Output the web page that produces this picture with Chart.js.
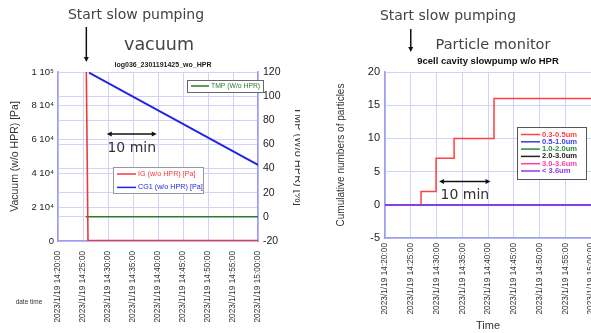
<!DOCTYPE html>
<html>
<head>
<meta charset="utf-8">
<script src="https://cdn.jsdelivr.net/npm/chart.js@4.4.1/dist/chart.umd.min.js"></script>
<style>
  html, body { margin: 0; padding: 0; background: #fff; width: 591px; height: 333px; overflow: hidden; }
  #leftBox { position: absolute; left: 0; top: 0; width: 300px; height: 333px; }
  #rightBox { position: absolute; left: 300px; top: 0; width: 320px; height: 333px; }
  .t { position: absolute; white-space: nowrap; transform: translateX(-50%); font-family: "DejaVu Sans", sans-serif; color: #444; line-height: 1; }
</style>
</head>
<body>
<div id="leftBox"><canvas id="vacuum" width="300" height="333"></canvas></div>
<div id="rightBox"><canvas id="particle" width="320" height="333"></canvas></div>

<div class="t" style="left:136px; top:7px; font-size:14px;">Start slow pumping</div>
<div class="t" style="left:159px; top:36px; font-size:17.5px;">vacuum</div>
<div class="t" style="left:163px; top:61px; font-size:7px; font-weight:bold; font-family:'Liberation Sans'; color:#222;">log036_2301191425_wo_HPR</div>
<div class="t" style="left:29px; top:299px; font-size:6.5px; font-family:'Liberation Sans'; color:#333;">date time</div>

<div class="t" style="left:448px; top:8px; font-size:14px;">Start slow pumping</div>
<div class="t" style="left:493px; top:37px; font-size:14.5px;">Particle monitor</div>
<div class="t" style="left:488px; top:56px; font-size:9.5px; font-weight:bold; font-family:'Liberation Sans'; color:#111;">9cell cavity slowpump w/o HPR</div>

<script>
// x axis is minutes after 14:20 on 2023/1/19
const tickMinutes = [0, 5, 10, 15, 20, 25, 30, 35, 40];

// vacuum chart
const igTimes = ['14:25:40', '14:26:00', '14:40:00', '15:00:00'];
const igValues = [100000, 250, 250, 200];
const cg1Times = ['14:26:12', '15:00:00'];
const cg1Values = [99600, 45000];
const tmpTimes = ['14:25:33', '15:00:00'];
const tmpValues = [0, 0];

// particle monitor
const pmLabels = ['0.3-0.5um', '0.5-1.0um', '1.0-2.0um', '2.0-3.0um', '3.0-3.6um', '< 3.6um'];
const pmColors = ['#ff4040', '#3c3cf0', '#2a8a3a', '#222222', '#ff3fa0', '#8a3cf0'];
const pm03Times = ['14:20:00', '14:27:00', '14:29:55', '14:33:25', '14:41:10', '15:00:00'];
const pm03Values = [0, 2, 7, 10, 16, 16];
const pmZeroTimes = ['14:20:00', '15:00:00'];
const pmZeroValues = [0, 0];

// annotation marks (time, value)
const startPumpVac = '14:25:40';
const startPumpPm = '14:25:00';
const tenMinVac = { from: '14:29:45', to: '14:39:45', value: 63300 };
const tenMinPm = { from: '14:30:30', to: '14:40:30', value: 3.5 };

function toMin(t) {
    const p = t.split(':').map(Number);
    return (p[0] - 14) * 60 + p[1] - 20 + p[2] / 60;
}
function pts(times, values) {
    return times.map((t, i) => ({ x: toMin(t), y: values[i] }));
}
function tickLabel(v) {
    const m = 20 + v;
    const hh = 14 + Math.floor(m / 60);
    const mm = String(m % 60).padStart(2, '0');
    return '2023/1/19 ' + hh + ':' + mm + ':00';
}

const gridColor = '#d2d2fb';
const axisColor = '#9c9cf2';

function arrowHead(ctx, x, y, dir) {
    // dir: 'down', 'left', 'right'
    ctx.beginPath();
    if (dir === 'down') { ctx.moveTo(x, y); ctx.lineTo(x - 2.5, y - 5); ctx.lineTo(x + 2.5, y - 5); }
    if (dir === 'left') { ctx.moveTo(x, y); ctx.lineTo(x + 5, y - 2.5); ctx.lineTo(x + 5, y + 2.5); }
    if (dir === 'right') { ctx.moveTo(x, y); ctx.lineTo(x - 5, y - 2.5); ctx.lineTo(x - 5, y + 2.5); }
    ctx.closePath();
    ctx.fill();
}

// draws the "start" arrow, the 10 min span and the legend boxes
const overlay = {
    id: 'overlay',
    afterDraw(chart, args, o) {
        const ctx = chart.ctx;
        const x = chart.scales.x;
        const y = chart.scales[o.spanAxis];
        ctx.save();
        ctx.strokeStyle = '#111';
        ctx.fillStyle = '#111';
        ctx.lineWidth = 1.5;

        // start arrow
        const sx = x.getPixelForValue(toMin(o.start));
        ctx.beginPath();
        ctx.moveTo(sx, o.startTop);
        ctx.lineTo(sx, o.startBottom - 4);
        ctx.stroke();
        arrowHead(ctx, sx, o.startBottom, 'down');

        // 10 min span
        const x1 = x.getPixelForValue(toMin(o.span.from));
        const x2 = x.getPixelForValue(toMin(o.span.to));
        const yy = y.getPixelForValue(o.span.value);
        ctx.beginPath();
        ctx.moveTo(x1 + 3, yy);
        ctx.lineTo(x2 - 3, yy);
        ctx.stroke();
        arrowHead(ctx, x1, yy, 'left');
        arrowHead(ctx, x2, yy, 'right');
        ctx.font = '14px "DejaVu Sans"';
        ctx.fillStyle = '#333';
        ctx.textAlign = 'center';
        ctx.textBaseline = 'middle';
        ctx.fillText('10 min', (x1 + x2) / 2, yy + 14);

        // legends
        o.legends.forEach(lg => {
            ctx.fillStyle = '#fff';
            ctx.fillRect(lg.x, lg.y, lg.w, lg.h);
            ctx.strokeStyle = lg.border;
            ctx.lineWidth = 1;
            ctx.strokeRect(lg.x + 0.5, lg.y + 0.5, lg.w, lg.h);
            ctx.font = lg.font;
            ctx.textAlign = 'left';
            ctx.textBaseline = 'middle';
            lg.items.forEach((idx, i) => {
                const ds = chart.data.datasets[idx];
                const ry = lg.y + lg.first + i * lg.step;
                ctx.strokeStyle = ds.borderColor;
                ctx.lineWidth = 1.5;
                ctx.beginPath();
                ctx.moveTo(lg.x + 4, ry);
                ctx.lineTo(lg.x + 4 + lg.line, ry);
                ctx.stroke();
                ctx.fillStyle = ds.borderColor;
                ctx.fillText(ds.label, lg.x + 6 + lg.line, ry);
            });
        });
        ctx.restore();
    }
};

function timeAxis(pad, height) {
    return {
        type: 'linear', min: 0, max: 40,
        afterBuildTicks: s => { s.ticks = tickMinutes.map(v => ({ value: v })); },
        afterFit: s => { s.height = height; s.paddingLeft = 0; s.paddingRight = 0; },
        grid: { color: gridColor, drawTicks: false },
        border: { color: axisColor, width: 1.5 },
        ticks: {
            autoSkip: false, minRotation: 90, maxRotation: 90, padding: pad,
            color: '#333', font: { family: 'Liberation Sans', size: 8.3 },
            callback: v => tickLabel(v)
        }
    };
}

const vacChart = new Chart(document.getElementById('vacuum'), {
    type: 'line',
    data: {
        datasets: [
            { label: 'IG (w/o HPR) [Pa]', data: pts(igTimes, igValues), borderColor: '#f03a3a', borderWidth: 1.6, yAxisID: 'y' },
            { label: 'CG1 (w/o HPR) [Pa]', data: pts(cg1Times, cg1Values), borderColor: '#2323e6', borderWidth: 2, yAxisID: 'y' },
            { label: 'TMP (W/o HPR)', data: pts(tmpTimes, tmpValues), borderColor: '#2a7a2a', borderWidth: 1.5, yAxisID: 'y1' }
        ]
    },
    options: {
        responsive: false, animation: false,
        elements: { point: { radius: 0 }, line: { tension: 0 } },
        layout: { padding: { top: 72, left: 0, right: 0, bottom: 0 } },
        plugins: {
            legend: { display: false }, tooltip: { enabled: false },
            overlay: {
                start: startPumpVac, startTop: 27, startBottom: 62,
                spanAxis: 'y', span: tenMinVac,
                legends: [
                    { x: 187, y: 80, w: 76, h: 12, border: '#666', font: '6.8px "Liberation Sans"', line: 18, first: 6, step: 0, items: [2] },
                    { x: 113, y: 167, w: 90, h: 26, border: '#999', font: '7.2px "Liberation Sans"', line: 19, first: 7, step: 13.4, items: [0, 1] }
                ]
            }
        },
        scales: {
            x: timeAxis(10, 92),
            y: {
                position: 'left', min: 0, max: 100000,
                ticks: {
                    stepSize: 20000, padding: 4, color: '#222', font: { family: 'Liberation Sans', size: 9.5 },
                    callback: v => v === 0 ? '0' : (v / Math.pow(10, Math.floor(Math.log10(v)))) + ' 10' + (v >= 100000 ? '\u2075' : '\u2074')
                },
                afterFit: s => { s.width = 58; },
                grid: { color: gridColor, drawTicks: false },
                border: { color: axisColor, width: 1.5 },
                title: { display: true, text: 'Vacuum (w/o HPR) [Pa]', color: '#333', font: { family: 'Liberation Sans', size: 10.5 }, padding: { top: 9, bottom: 0 } }
            },
            y1: {
                position: 'right', min: -20, max: 120,
                ticks: { stepSize: 20, padding: 5, color: '#222', font: { family: 'Liberation Sans', size: 10.5 } },
                afterFit: s => { s.width = 42; },
                grid: { color: gridColor, drawTicks: false },
                border: { color: axisColor, width: 1.5 },
                title: { display: true, text: 'TMP (W/o HPR) [%]', color: '#333', font: { family: 'Liberation Sans', size: 11 }, padding: { top: -5, bottom: 0 } }
            }
        }
    },
    plugins: [overlay]
});

const pmDatasets = pmLabels.map((lab, i) => ({
    label: lab,
    data: i === 0 ? pts(pm03Times, pm03Values) : pts(pmZeroTimes, pmZeroValues),
    borderColor: pmColors[i],
    borderWidth: i === 5 ? 1.8 : 1.5,
    stepped: true,
    order: i === 5 ? 0 : 1
}));

const pmChart = new Chart(document.getElementById('particle'), {
    type: 'line',
    data: { datasets: pmDatasets },
    options: {
        responsive: false, animation: false,
        elements: { point: { radius: 0 } },
        layout: { padding: { top: 72, left: 0, right: 29, bottom: 0 } },
        plugins: {
            legend: { display: false }, tooltip: { enabled: false },
            overlay: {
                start: startPumpPm, startTop: 29, startBottom: 52,
                spanAxis: 'y', span: tenMinPm,
                legends: [
                    { x: 217, y: 127, w: 69, h: 52, border: '#555', font: 'bold 7.6px "Liberation Sans"', line: 19, first: 7.5, step: 7.3, items: [0, 1, 2, 3, 4, 5] }
                ]
            }
        },
        scales: {
            x: Object.assign(timeAxis(5, 95), {
                title: { display: true, text: 'Time', color: '#333', font: { family: 'Liberation Sans', size: 11 }, padding: { top: 0, bottom: 0 } }
            }),
            y: {
                min: -5, max: 20,
                ticks: { stepSize: 5, padding: 5, color: '#222', font: { family: 'Liberation Sans', size: 11 } },
                afterFit: s => { s.width = 85; },
                grid: { color: gridColor, drawTicks: false },
                border: { color: axisColor, width: 1.5 },
                title: { display: true, text: 'Cumulative numbers of particles', color: '#333', font: { family: 'Liberation Sans', size: 10 }, padding: { top: 35, bottom: 0 } }
            }
        }
    },
    plugins: [overlay]
});
</script>
</body>
</html>
